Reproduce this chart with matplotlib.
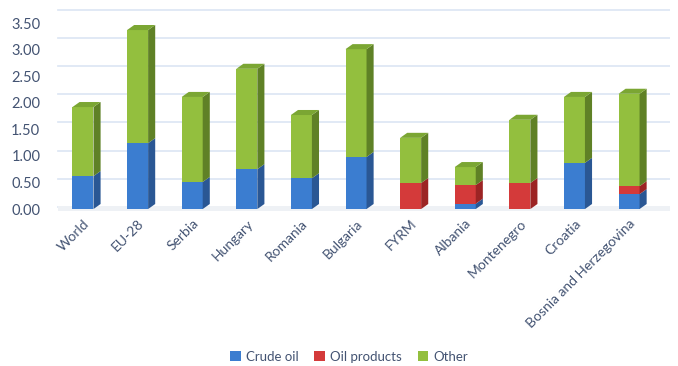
import numpy as np
import matplotlib
matplotlib.use("Agg")
import matplotlib.pyplot as plt
from matplotlib.patches import Polygon, Patch
from matplotlib.transforms import ScaledTranslation

plt.rcParams['font.family'] = ['Lato', 'DejaVu Sans']

# data
countries = ['World', 'EU-28', 'Serbia', 'Hungary', 'Romania', 'Bulgaria',
             'FYRM', 'Albania', 'Montenegro', 'Croatia', 'Bosnia and Herzegovina']
crude_oil = [0.62, 1.24, 0.51, 0.75, 0.58, 0.98, 0.00, 0.10, 0.00, 0.87, 0.28]
oil_products = [0.00, 0.00, 0.00, 0.00, 0.00, 0.00, 0.49, 0.35, 0.49, 0.00, 0.15]
other = [1.30, 2.13, 1.60, 1.89, 1.19, 2.03, 0.85, 0.34, 1.19, 1.24, 1.74]

series = [('Crude oil', crude_oil, '#3b7dd0', '#2a5794', '#4f8ad6'),
          ('Oil products', oil_products, '#d43a3a', '#9c2424', '#c83030'),
          ('Other', other, '#93bf3e', '#5f8126', '#7ba633')]

text_col = '#435372'
grid_col = '#dbe5f3'

fig = plt.figure(figsize=(6.78, 3.66), dpi=100)
ax = fig.add_axes([50 / 678, 0.4216, 620 / 678, 0.5587])

x = np.arange(len(countries))
w = 0.385   # front face width
dx = 0.13   # depth offset (x)
dy = 0.095  # depth offset (y)

# gridlines on the back wall, drawn a bit stretched like the 3D original
ticks = np.arange(0, 3.51, 0.5)
for v in ticks:
    gy = 0.04 + 1.06 * v
    ax.plot([-0.45, 10.75], [gy, gy], color=grid_col, lw=1.2, zorder=0)

# floor shadow
ax.fill_between([-0.45, 10.75], [-0.03, -0.03], [0.05, 0.05], color='#eef1f5', zorder=0.5, lw=0)

bottom = np.zeros(len(countries))
for name, vals, front, side, top in series:
    vals = np.array(vals)
    ax.bar(x, vals, w, bottom=bottom, color=front, edgecolor='none', zorder=2)
    for i in range(len(x)):
        if vals[i] <= 0:
            continue
        x1 = x[i] + w / 2
        y0, y1 = bottom[i], bottom[i] + vals[i]
        ax.add_patch(Polygon([(x1, y0), (x1 + dx, y0 + dy), (x1 + dx, y1 + dy), (x1, y1)],
                             closed=True, facecolor=side, edgecolor='none', zorder=2))
    bottom = bottom + vals

# top faces on the highest segment
for i in range(len(x)):
    x0 = x[i] - w / 2
    x1 = x[i] + w / 2
    y1 = bottom[i]
    ax.add_patch(Polygon([(x0, y1), (x1, y1), (x1 + dx, y1 + dy), (x0 + dx, y1 + dy)],
                         closed=True, facecolor=series[2][4], edgecolor='none', zorder=2))

ax.set_xlim(-0.604, 10.75)
ax.set_ylim(-0.05, 3.8)
ax.set_yticks(ticks)
ax.set_yticklabels(['%.2f' % t for t in ticks])
ax.set_xticks(x)
ax.set_xticklabels(countries, rotation=45, ha='right', rotation_mode='anchor')
off = ScaledTranslation(0.02, -0.02, fig.dpi_scale_trans)
for lbl in ax.get_xticklabels():
    lbl.set_transform(lbl.get_transform() + off)
ax.tick_params(axis='both', length=0, colors=text_col)
ax.tick_params(axis='y', pad=7, labelsize=10.5)
ax.tick_params(axis='x', pad=4, labelsize=10)
for s in ax.spines.values():
    s.set_visible(False)

handles = [Patch(facecolor=s[2], edgecolor='none') for s in series]
fig.legend(handles, [s[0] for s in series], loc='center', bbox_to_anchor=(0.515, 0.025),
           ncol=3, frameon=False, fontsize=9.5, handlelength=0.8, handleheight=0.8,
           handletextpad=0.4, columnspacing=1.2, labelcolor=text_col)

fig.savefig('out.png', dpi=100)
